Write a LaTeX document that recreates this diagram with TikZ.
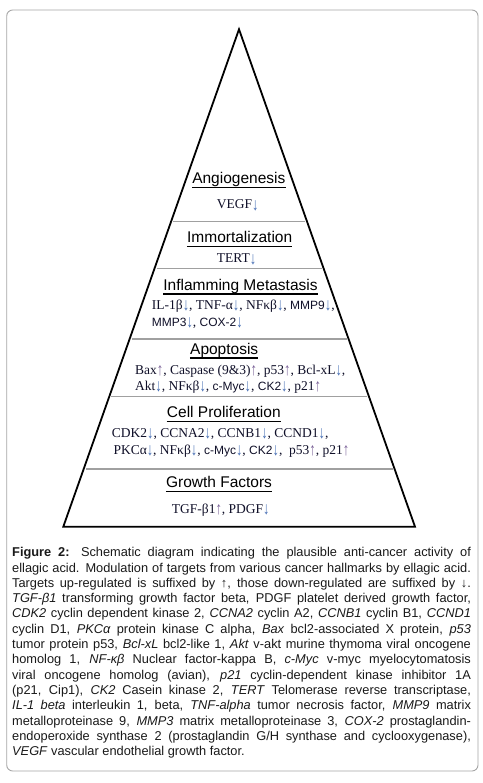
\documentclass[tikz,border=0pt]{standalone}
\usepackage{fontspec}
\usepackage{graphicx}
\setmainfont{Liberation Serif}
\setsansfont{Liberation Sans}
\usetikzlibrary{calc}
\definecolor{dnc}{RGB}{70,110,180}
\definecolor{upc}{RGB}{120,95,150}
\definecolor{framec}{RGB}{165,165,165}
\definecolor{divc}{RGB}{160,160,160}
\definecolor{capc}{RGB}{25,25,25}
\definecolor{bodyc}{RGB}{15,15,40}
\newcommand\mydn{\textcolor{dnc}{\raisebox{-0.12em}{\scalebox{0.95}[1.3]{↓}}}}
\newcommand\myup{\textcolor{upc}{\raisebox{-0.12em}{\scalebox{0.95}[1.3]{↑}}}}
\newcommand\sfw[1]{{\sffamily\fontsize{12}{12}\selectfont #1}}
\newlength\capw \setlength\capw{458.7pt}
\newcommand\capl[1]{\makebox[\capw][s]{#1}}
\begin{document}
\begin{tikzpicture}[x=1pt,y=-1pt,
  title/.style={inner sep=0pt, anchor=base, font=\sffamily\fontsize{15.5}{15.5}\selectfont},
  body/.style={inner sep=0pt, anchor=base west, text=bodyc, font=\fontsize{13.5}{13.5}\selectfont},
  capline/.style={inner sep=0pt, anchor=base west, text=capc, font=\sffamily\fontsize{12.8}{12.8}\selectfont},
  uline/.style={line width=1.1pt},
  divider/.style={draw=divc, line width=1.6pt, shorten <=2pt, shorten >=2pt},
  pyr/.style={line width=1.8pt, line join=miter}]
\useasboundingbox (0,0) rectangle (482,783);
\draw[framec, line width=0.9pt, rounded corners=6pt] (6.7,10) rectangle (478,771);
\coordinate (A) at (239,29.3);
\coordinate (BL) at (63.3,526.7);
\coordinate (BR) at (415,526.7);
\foreach \f in {0.3868,0.4805,0.6226,0.7386,0.8840}
  \draw[divider] ($(A)!\f!(BL)$) -- ($(A)!\f!(BR)$);
\draw[pyr] (A) -- (BL) -- (BR) -- cycle;
% titles
\node[title] (t1) at (238.8,183.3) {Angiogenesis};
\node[title] (t2) at (239.7,242.7) {Immortalization};
\node[title] (t3) at (240.5,290) {Inflamming Metastasis};
\node[title] (t4) at (224.2,354) {Apoptosis};
\node[title] (t5) at (223.8,417.3) {Cell Proliferation};
\node[title] (t6) at (219,487.3) {Growth Factors};
\foreach \t in {t1,t2,t3,t4,t5,t6}
  \draw[uline] ([yshift=-4pt]\t.base west) -- ([yshift=-4pt]\t.base east);
% bodies
\node[body] (b1) at (216.7,209) {VEGF\mydn};
\node[body] (b2) at (216.7,262.7) {TERT\mydn};
\node[body] (b3) at (151.7,309.3) {IL-1β\mydn, TNF-α\mydn, NFκβ\mydn, \sfw{MMP9}\mydn,};
\node[body] (b4) at (151.7,326) {\sfw{MMP3}\mydn, \sfw{COX-2}\mydn};
\node[body] (b5) at (135,374) {Bax\myup, Caspase (9\&3)\myup, p53\myup, Bcl-xL\mydn,};
\node[body] (b6) at (135,390) {Akt\mydn, NFκβ\mydn, \sfw{c-Myc}\mydn, \sfw{CK2}\mydn, p21\myup};
\node[body] (b7) at (111.7,437.3) {CDK2\mydn, CCNA2\mydn, CCNB1\mydn, CCND1\mydn,};
\node[body] (b8) at (113.3,454.3) {PKCα\mydn, NFκβ\mydn, \sfw{c-Myc}\mydn, \sfw{CK2}\mydn, \ p53\myup, p21\myup};
\node[body] (b9) at (171.7,513.3) {TGF-β1\myup, PDGF\mydn};
% caption
\node[capline] (c1) at (12,556.7) {\capl{\textbf{Figure 2:} Schematic diagram indicating the plausible anti-cancer activity of}};
\node[capline] (c2) at (12,572.0) {\capl{ellagic acid. Modulation of targets from various cancer hallmarks by ellagic acid.}};
\node[capline] (c3) at (12,587.3) {\capl{Targets up-regulated is suffixed by ↑, those down-regulated are suffixed by ↓.}};
\node[capline] (c4) at (12,602.6) {\capl{\textit{TGF-β1} transforming growth factor beta, PDGF platelet derived growth factor,}};
\node[capline] (c5) at (12,617.9) {\capl{\textit{CDK2} cyclin dependent kinase 2, \textit{CCNA2} cyclin A2, \textit{CCNB1} cyclin B1, \textit{CCND1}}};
\node[capline] (c6) at (12,633.2) {\capl{cyclin D1, \textit{PKCα} protein kinase C alpha, \textit{Bax} bcl2-associated X protein, \textit{p53}}};
\node[capline] (c7) at (12,648.5) {\capl{tumor protein p53, \textit{Bcl-xL} bcl2-like 1, \textit{Akt} v-akt murine thymoma viral oncogene}};
\node[capline] (c8) at (12,663.8) {\capl{homolog 1, \textit{NF-κβ} Nuclear factor-kappa B, \textit{c-Myc} v-myc myelocytomatosis}};
\node[capline] (c9) at (12,679.1) {\capl{viral oncogene homolog (avian), \textit{p21} cyclin-dependent kinase inhibitor 1A}};
\node[capline] (c10) at (12,694.4) {\capl{(p21, Cip1), \textit{CK2} Casein kinase 2, \textit{TERT} Telomerase reverse transcriptase,}};
\node[capline] (c11) at (12,709.7) {\capl{\textit{IL-1 beta} interleukin 1, beta, \textit{TNF-alpha} tumor necrosis factor, \textit{MMP9} matrix}};
\node[capline] (c12) at (12,725.0) {\capl{metalloproteinase 9, \textit{MMP3} matrix metalloproteinase 3, \textit{COX-2} prostaglandin-}};
\node[capline] (c13) at (12,740.3) {\capl{endoperoxide synthase 2 (prostaglandin G/H synthase and cyclooxygenase),}};
\node[capline] (c14) at (12,755.6) {\textit{VEGF} vascular endothelial growth factor.};
\end{tikzpicture}
\end{document}
